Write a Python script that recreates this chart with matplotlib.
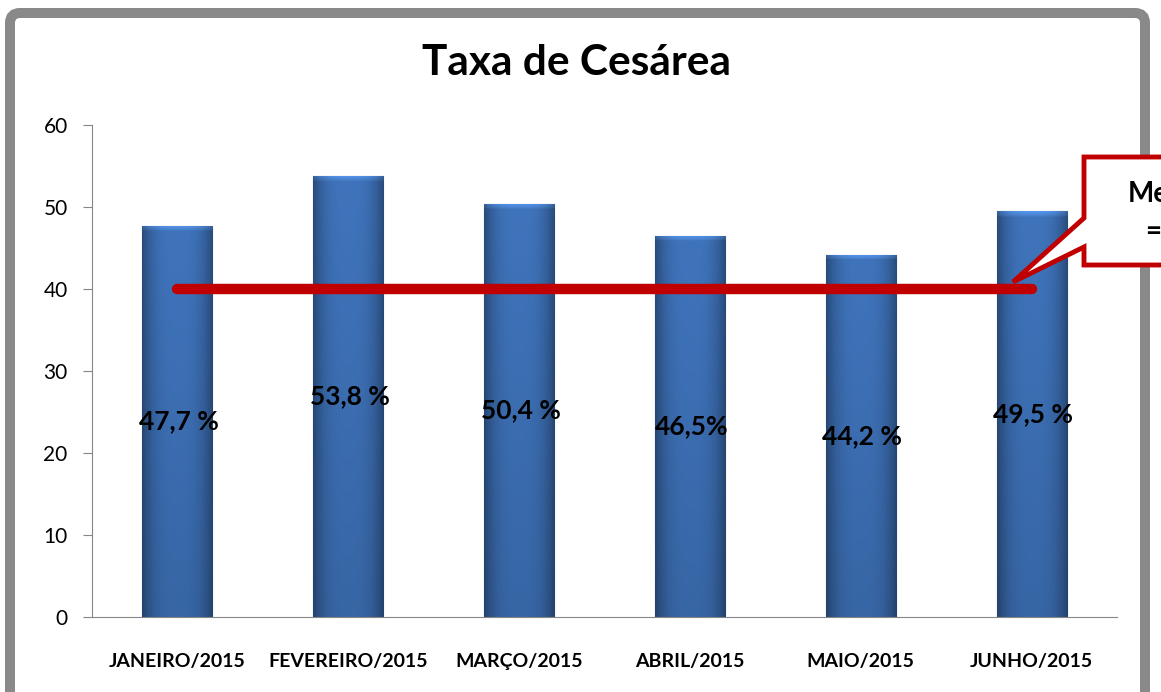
import numpy as np
import matplotlib.pyplot as plt
from matplotlib.patches import FancyBboxPatch, Polygon

meses = ["JANEIRO/2015", "FEVEREIRO/2015", "MARÇO/2015", "ABRIL/2015", "MAIO/2015", "JUNHO/2015"]
taxa = [47.7, 53.8, 50.4, 46.5, 44.2, 49.5]
rotulos = ["47,7 %", "53,8 %", "50,4 %", "46,5%", "44,2 %", "49,5 %"]
meta = [40, 40]
meta_x = [0, 5]
yticks = [0, 10, 20, 30, 40, 50, 60]

W, H = 1161, 692
plt.rcParams['font.family'] = ['Lato', 'DejaVu Sans']

fig = plt.figure(figsize=(W / 100, H / 100), dpi=100)


def px(x, y):
    # pixel da imagem -> polegadas da figura
    return (x / 100, (H - y) / 100)


# moldura cinza
moldura = FancyBboxPatch(px(10, 740), 1135 / 100, 727 / 100,
                         boxstyle="round,pad=0,rounding_size=0.1",
                         transform=fig.dpi_scale_trans, fill=False,
                         edgecolor="#898989", linewidth=7.2, zorder=0)
fig.patches.append(moldura)

ax = fig.add_axes([92 / W, 1 - 617 / H, (1117 - 92) / W, (617 - 125) / H])
x = np.arange(len(meses))
barras = ax.bar(x, taxa, width=0.41, color="#3C6FB4", edgecolor="#2B5288", linewidth=0.8, zorder=2)

# gradiente nas barras
perfil = np.linspace(-1, 1, 60)
luz = 1 - 0.35 * np.abs(perfil) ** 3
base = np.array([0x3F, 0x74, 0xBC]) / 255
for b, v in zip(barras, taxa):
    rows = 300
    img = np.zeros((rows, 60, 3))
    yy = np.linspace(v, 0, rows)
    for i, yv in enumerate(yy):
        c = base * luz[:, None]
        d = v - yv
        if d < 0.55:
            c = np.clip(c * (1.22 - 0.2 * d / 0.55) + 0.03, 0, 1)
        c = c * (0.88 + 0.12 * yv / v)
        img[i] = c
    im = ax.imshow(img, extent=[b.get_x(), b.get_x() + b.get_width(), 0, v],
                   aspect="auto", zorder=2.5, interpolation="bilinear")
    im.set_clip_path(b)

for xi, v, r in zip(x, taxa, rotulos):
    ax.text(xi + 0.01, v / 2, r, ha="center", va="center", fontsize=19,
            fontweight="bold", color="black", zorder=5)

ax.plot(meta_x, meta, color="#C00000", linewidth=7.5, solid_capstyle="round", zorder=4)

ax.set_xlim(-0.5, 5.5)
ax.set_ylim(0, 60)
ax.set_yticks(yticks)
ax.set_xticks(x)
ax.set_xticklabels(meses, fontsize=14, fontweight="bold")
ax.tick_params(axis="x", length=0, pad=26)
ax.tick_params(axis="y", length=6.5, color="#868686", labelsize=15, pad=11)
for s in ["top", "right"]:
    ax.spines[s].set_visible(False)
ax.spines["left"].set_color("#868686")
ax.spines["bottom"].set_color("#868686")

fig.text(577 / W, 1 - 63 / H, "Taxa de Cesárea", ha="center", va="center",
         fontsize=30.5, fontweight="bold")

# balão da meta (cortado na borda, como no original)
balao = Polygon([px(1084, 157), px(1300, 157), px(1300, 265), px(1084, 265),
                 px(1084, 247), px(1013, 282), px(1084, 218)],
                closed=True, transform=fig.dpi_scale_trans, facecolor="white",
                edgecolor="#C00000", linewidth=3.5, zorder=10)
fig.patches.append(balao)
fig.text(1128 / W, 1 - 194 / H, "Meta", ha="left", va="center", fontsize=20,
         fontweight="bold", zorder=11)
fig.text(1146 / W, 1 - 232 / H, "= 40%", ha="left", va="center", fontsize=20,
         fontweight="bold", zorder=11)

fig.savefig("out.png", dpi=100)
